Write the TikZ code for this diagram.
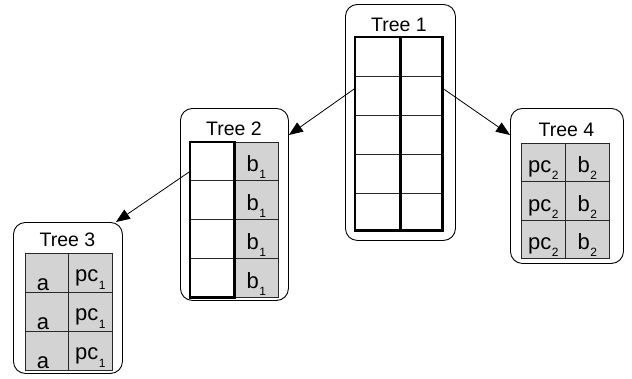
\documentclass[tikz,border=0pt]{standalone}
\usepackage{fontspec}
\setmainfont{Liberation Sans}
\usetikzlibrary{arrows.meta}
\definecolor{cellgray}{RGB}{211,211,211}
\definecolor{rulegray}{RGB}{40,40,40}
% lowered, smaller index digit
\newcommand\idx[2][7pt]{\kern0.6pt\raisebox{-#1}{\fontsize{12}{12}\selectfont #2}}
\begin{document}
\begin{tikzpicture}[x=1pt,y=-1pt,
  treebox/.style={draw, rounded corners=12pt, line width=0.9pt, inner sep=0pt, anchor=north west},
  title/.style={font=\fontsize{19.5}{20}\selectfont, anchor=base, inner sep=0pt},
  plaincell/.style={draw=rulegray, line width=0.8pt, inner sep=0pt, anchor=north west},
  graycell/.style={plaincell, fill=cellgray},
  celltext/.style={font=\fontsize{22}{22}\selectfont, anchor=base, inner sep=0pt},
  thickframe/.style={line width=2.8pt},
  edge/.style={line width=0.8pt, -{Triangle[length=14pt,width=11pt]}}]
\useasboundingbox (0,0) rectangle (632,378);

% ---------- Tree 1 ----------
\node[treebox, minimum width=110pt, minimum height=236pt] (t1) at (345,4) {};
\node[title] (t1t) at (399,31.5) {Tree 1};
\foreach \y/\h [count=\i] in {37/39,76/39,115/39,154/39,193/37}{
  \node[plaincell, minimum width=45pt, minimum height=\h pt] (t1l\i) at (355,\y) {};
  \node[plaincell, minimum width=42pt, minimum height=\h pt] (t1r\i) at (400,\y) {};
}
\draw[thickframe] (t1l1.north west) rectangle (t1l5.south east);
\draw[thickframe] (t1r1.north west) rectangle (t1r5.south east);

% ---------- Tree 2 ----------
\node[treebox, minimum width=108pt, minimum height=192pt] (t2) at (180,108) {};
\node[title] (t2t) at (234,135.5) {Tree 2};
\foreach \y/\h [count=\i] in {142/38,180/39,219/39,258/39}{
  \node[plaincell, minimum width=44pt, minimum height=\h pt] (t2l\i) at (190,\y) {};
  \node[graycell, minimum width=44pt, minimum height=\h pt] (t2r\i) at (234,\y) {};
  \node[celltext] (t2b\i) at ([yshift=9pt]t2r\i.south) {b\idx{1}};
}
\draw[thickframe] (t2l1.north west) rectangle (t2l4.south east);

% ---------- Tree 3 ----------
\node[treebox, minimum width=109pt, minimum height=151pt] (t3) at (13,222) {};
\node[title] (t3t) at (67.5,246.5) {Tree 3};
\foreach \y [count=\i] in {253,292,331}{
  \node[graycell, minimum width=43pt, minimum height=39pt] (t3l\i) at (25,\y) {};
  \node[graycell, minimum width=44pt, minimum height=39pt] (t3r\i) at (68,\y) {};
  \node[celltext] (t3a\i) at ([yshift=2pt,xshift=-4pt]t3l\i.south) {a};
  \node[celltext] (t3p\i) at ([yshift=11pt]t3r\i.south) {pc\idx[8pt]{1}};
}

% ---------- Tree 4 ----------
\node[treebox, minimum width=113pt, minimum height=155pt] (t4) at (510,108) {};
\node[title] (t4t) at (566.5,136.5) {Tree 4};
\foreach \y/\h [count=\i] in {143/38,181/39,220/38}{
  \node[graycell, minimum width=44pt, minimum height=\h pt] (t4l\i) at (521,\y) {};
  \node[graycell, minimum width=44pt, minimum height=\h pt] (t4r\i) at (565,\y) {};
  \node[celltext] (t4p\i) at ([yshift=9pt]t4l\i.south) {pc\idx{2}};
  \node[celltext] (t4b\i) at ([yshift=9pt]t4r\i.south) {b\idx{2}};
}

% ---------- connectors ----------
\draw[edge] ([yshift=7.5pt]t1l2.west) -- ([yshift=-27pt]t2.north east);
\draw[edge] ([yshift=7.5pt]t1r2.east) -- ([yshift=-27pt]t4.north west);
\draw[edge] ([yshift=-10pt]t2l1.west) -- ([xshift=-7pt]t3.north east);
\end{tikzpicture}
\end{document}
